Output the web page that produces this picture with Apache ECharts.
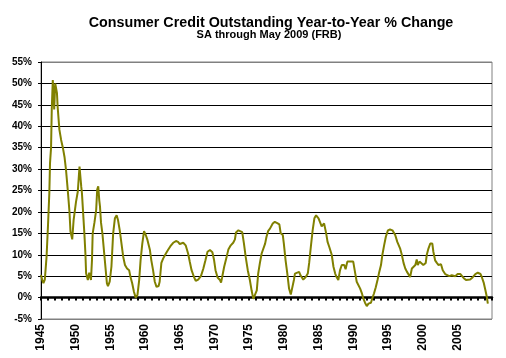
<!DOCTYPE html>
<html>
<head>
<meta charset="utf-8">
<script src="https://cdn.jsdelivr.net/npm/echarts@6/dist/echarts.min.js"></script>
<style>html,body{margin:0;padding:0;background:#fff;}#c{width:506px;height:358px;}</style>
</head>
<body>
<div id="c"></div>
<script>
const titleText = "Consumer Credit Outstanding Year-to-Year % Change";
const subtitleText = "SA through May 2009 (FRB)";
const yTicks = [-5, 0, 5, 10, 15, 20, 25, 30, 35, 40, 45, 50, 55];
const xLabelYears = [1945, 1950, 1955, 1960, 1965, 1970, 1975, 1980, 1985, 1990, 1995, 2000, 2005];

const years = [
1945.0,1945.2,1945.35,1945.55,1945.7,1945.8,1946.0,1946.2,1946.3,1946.45,1946.55,1946.7,1946.8,1946.9,1947.05,1947.3,1947.4,1947.55,1947.65,1947.9,
1948.15,1948.4,1948.6,1948.85,1949.1,1949.25,1949.5,1949.7,1950.05,1950.3,1950.55,1950.7,1950.8,1950.9,1951.1,1951.25,1951.4,1951.5,1951.75,1951.95,
1952.2,1952.35,1952.45,1952.7,1952.95,1953.1,1953.25,1953.4,1953.5,1953.65,1953.85,1954.2,1954.5,1954.65,1954.9,1955.15,1955.4,1955.65,1955.9,1956.1,
1956.35,1956.6,1956.85,1957.1,1957.4,1957.7,1957.9,1958.15,1958.4,1958.65,1958.9,1959.15,1959.35,1959.6,1959.85,1960.1,1960.35,1960.7,1960.9,1961.15,
1961.4,1961.65,1961.95,1962.1,1962.35,1962.6,1963.0,1963.3,1963.65,1964.05,1964.45,1964.75,1965.0,1965.5,1965.85,1966.2,1966.45,1966.7,1967.05,1967.3,
1967.65,1968.05,1968.4,1968.7,1969.0,1969.35,1969.7,1969.95,1970.15,1970.45,1970.8,1970.95,1971.1,1971.4,1971.75,1972.0,1972.35,1972.7,1972.95,1973.1,
1973.45,1973.7,1974.0,1974.25,1974.5,1974.8,1975.1,1975.35,1975.6,1975.85,1976.1,1976.3,1976.55,1976.8,1977.05,1977.3,1977.5,1977.75,1978.0,1978.4,
1978.7,1979.05,1979.35,1979.55,1979.85,1980.0,1980.25,1980.5,1980.75,1981.0,1981.2,1981.45,1981.6,1981.85,1982.2,1982.4,1982.8,1983.15,1983.45,1983.65,
1983.9,1984.15,1984.4,1984.65,1985.0,1985.2,1985.45,1985.8,1986.1,1986.3,1986.55,1986.9,1987.15,1987.4,1987.6,1987.85,1988.1,1988.35,1988.7,1988.9,
1989.15,1989.4,1989.7,1990.0,1990.25,1990.5,1990.75,1991.0,1991.25,1991.45,1991.7,1991.95,1992.2,1992.55,1992.75,1993.0,1993.25,1993.5,1993.7,1994.0,
1994.2,1994.45,1994.7,1995.0,1995.3,1995.65,1996.05,1996.35,1996.75,1997.0,1997.25,1997.5,1997.75,1997.95,1998.2,1998.45,1998.7,1998.95,1999.15,1999.3,
1999.55,1999.8,2000.1,2000.45,2000.6,2000.85,2001.1,2001.4,2001.55,2001.8,2002.05,2002.3,2002.65,2002.9,2003.25,2003.5,2003.85,2004.2,2004.45,2004.7,
2005.05,2005.45,2005.65,2005.9,2006.25,2006.45,2006.85,2007.2,2007.6,2007.95,2008.35,2008.55,2008.8,2009.05,2009.25,2009.4
];
const pctChange = [
5.3,4.0,3.4,4.2,4.5,9.5,16.5,24.4,31.4,35,43.9,50.8,51.2,43.9,50.0,47.7,44.5,44.2,39.2,36.8,
35,32.7,29.9,25.2,20.1,15.4,13.6,18.1,22.4,24.7,30.6,31,25.9,24.4,24.6,15,10.3,5.7,4.1,5.8,
4.1,8.8,15,17.5,20.4,25.2,26,22.7,21.3,17.5,15,8.7,3.3,2.7,3.7,7.2,15,18.5,19.2,18.1,
15.7,12.6,9.5,7.6,6.8,6.4,4.8,3.3,1.3,0,0.6,4.1,8.7,12.6,15.5,14.6,13.4,11.1,8.7,6.4,
3.7,2.5,2.7,3.7,8.1,9.1,10.3,11.1,12,12.8,13.2,13.0,12.5,12.8,12.2,10.3,8.3,6.4,4.8,3.9,
4.2,5.0,6.8,8.7,10.7,11.1,10.6,8.7,6.4,4.7,4.1,3.5,4.7,7.2,9.5,11.2,12.2,12.8,13.6,15.2,
15.7,15.9,15.3,12.6,9.5,6.4,4.1,1.7,-0.3,-0.4,1.7,5.6,8.1,10.3,10.7,12.6,14.2,15.6,16.1,17.3,
17.7,17.4,17.1,15,14.6,12.6,8.7,5.6,2.1,0.7,0.6,4.1,5.6,6.0,6.0,5.2,4.2,4.8,5.6,8.1,
12,15.7,18.5,19.2,18.5,18.1,16.6,17.3,15,13,11.8,10,7.2,5.6,4.8,4.1,6.4,7.6,7.6,6.6,
8.4,8.6,8.4,8.4,6.0,3.7,3.3,2.1,1.0,-0.2,-1.2,-2.0,-1.4,-1.2,-0.2,1.0,2.4,4.1,5.6,7.6,
10,12.2,14.2,15.7,15.9,15.7,14.6,13,11.5,10,8.1,6.8,6.0,5.6,4.8,6.8,7.2,7.6,8.9,7.6,
8.4,8.2,7.6,8.1,10,11.5,12.6,12.6,10.7,8.7,8.1,7.6,7.8,6.4,5.5,5.6,5.0,5.2,4.8,5.0,
5.5,5.5,5.5,4.6,4.1,3.9,4.2,4.7,5.5,5.8,5.5,4.7,3.5,1.7,0.2,-1.4
];

const seriesData = years.map((y, i) => [y, pctChange[i]]);
const splitColors = yTicks.map((v, i) => (i === 0 || i === yTicks.length - 1) ? '#808080' : '#000000');
const fontFam = '"Liberation Sans", Arial, sans-serif';

const chart = echarts.init(document.getElementById('c'), null, {renderer: 'canvas'});
chart.setOption({
  backgroundColor: '#ffffff',
  animation: false,
  graphic: [
    {type: 'text', x: 271, y: 23, style: {text: titleText, fontFamily: fontFam, fontWeight: 'bold', fontSize: 14.3, fill: '#000', textAlign: 'center', textVerticalAlign: 'middle'}},
    {type: 'text', x: 269, y: 35, style: {text: subtitleText, fontFamily: fontFam, fontWeight: 'bold', fontSize: 11, fill: '#000', textAlign: 'center', textVerticalAlign: 'middle'}}
  ],
  grid: {left: 41, right: 14, top: 62, bottom: 39, containLabel: false, outerBoundsMode: 'none', show: true, borderColor: '#808080', borderWidth: 1, backgroundColor: '#ffffff'},
  xAxis: {
    type: 'value', min: 1945, max: 2010, interval: 5,
    axisLine: {show: true, onZero: true, lineStyle: {color: '#000', width: 2.5}},
    axisTick: {show: true, length: 3, lineStyle: {color: '#000', width: 2}},
    minorTick: {show: true, splitNumber: 5, length: 3, lineStyle: {color: '#000', width: 2}},
    splitLine: {show: false},
    axisLabel: {
      rotate: 90, margin: 5, color: '#000', fontFamily: fontFam, fontWeight: 'bold', fontSize: 12,
      showMinLabel: true, showMaxLabel: false,
      formatter: v => xLabelYears.indexOf(v) >= 0 ? String(v) : ''
    }
  },
  yAxis: {
    type: 'value', min: -5, max: 55, interval: 5,
    axisLine: {show: true, lineStyle: {color: '#000', width: 1}},
    axisTick: {show: true, length: 3, lineStyle: {color: '#000'}},
    splitLine: {show: true, lineStyle: {color: splitColors, width: 1}},
    axisLabel: {margin: 9, color: '#000', fontFamily: fontFam, fontWeight: 'bold', fontSize: 10, formatter: v => v + '%'}
  },
  series: [{
    type: 'line', data: seriesData, showSymbol: false, smooth: false,
    lineStyle: {color: '#808000', width: 2}, itemStyle: {color: '#808000'}
  }]
});
</script>
</body>
</html>
